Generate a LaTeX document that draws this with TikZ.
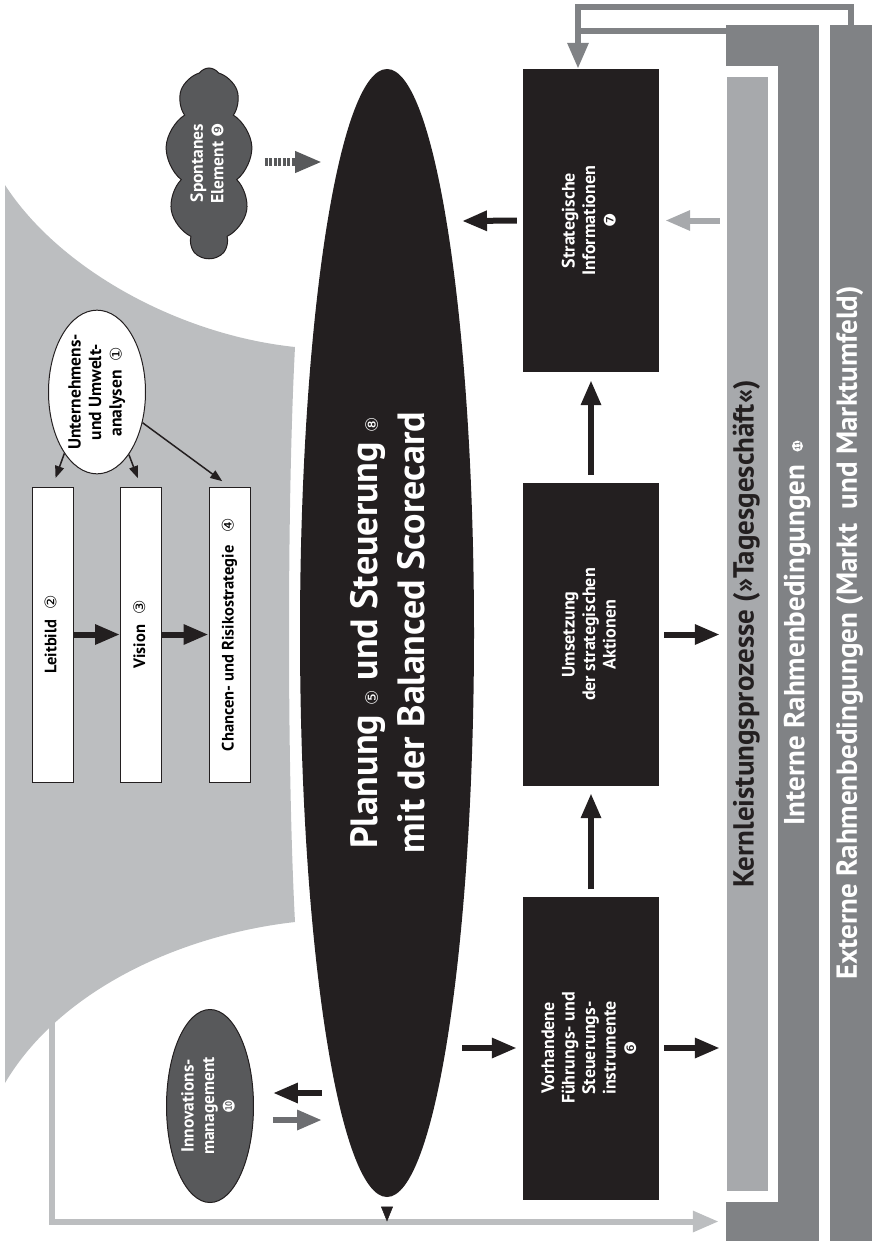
\documentclass[tikz,border=0pt]{standalone}
\usepackage{fontspec}
\usepackage{graphicx}
\setmainfont{PT Sans}
\newfontfamily\symf{DejaVu Sans}
\usetikzlibrary{arrows.meta,shapes.geometric,shapes.symbols}
\definecolor{blk}{HTML}{231F20}
\definecolor{lgray}{HTML}{BCBEC0}
\definecolor{mgray}{HTML}{A7A9AC}
\definecolor{dgray}{HTML}{808285}
\definecolor{cgray}{HTML}{58595B}
\definecolor{igray}{HTML}{6D6E71}
\newcommand\vt[1]{\rotatebox{90}{\begin{tabular}{@{}c@{}}#1\end{tabular}}}
\newcommand\vtshift[2]{\rotatebox{90}{\raisebox{#1}[\height][\depth]{\begin{tabular}{@{}c@{}}#2\end{tabular}}}}
\newcommand\cn[2][16]{{\symf\mdseries\fontsize{#1}{#1}\selectfont #2}}
\newsavebox\elevbox
\begin{document}
\sbox\elevbox{\begin{pgfpicture}\pgfsetbaseline{0pt}\pgfsetfillcolor{white}\pgfpathcircle{\pgfpointorigin}{5.5pt}\pgfusepath{fill}\pgftext{\color{dgray}\fontsize{8}{8}\selectfont\bfseries 11}\end{pgfpicture}}%
\begin{tikzpicture}[x=1pt,y=-1pt,
  wbox/.style={draw=blk, line width=1pt, fill=white, minimum width=41pt, minimum height=295pt, inner sep=0pt, font=\fontsize{16.5}{20}\selectfont\bfseries},
  bbox/.style={fill=blk, minimum width=136pt, minimum height=303pt, inner sep=0pt, text=white, font=\fontsize{18}{20.5}\selectfont\bfseries},
  barfont/.style={inner sep=0pt, font=\fontsize{29}{29}\selectfont\bfseries},
  tarr/.style={draw=blk, line width=6pt, -{Triangle[length=25pt,width=19pt]}},
  garr/.style={draw=mgray, line width=6pt, -{Triangle[length=25pt,width=19pt]}},
  tharr/.style={draw=blk, line width=1.5pt, -{Triangle[length=12pt,width=9pt]}},
  smalltxt/.style={font=\fontsize{17.5}{20.5}\selectfont\bfseries}
]
\useasboundingbox (0,0) rectangle (872,1243);

% feedback line under the funnel
\coordinate (fb) at (52,1000);
\node[fill=dgray, minimum width=93pt, minimum height=39pt, inner sep=0pt] (intbot) at (772.5,1221.5) {};
\draw[lgray, line width=6pt, -{Triangle[length=26pt,width=20pt]}, shorten >=7pt] (fb) |- (intbot.west);

% funnel
\fill[lgray] (5,185) .. controls (60,270) and (180,335) .. (295,347)
  .. controls (287,500) and (287,770) .. (295,922)
  .. controls (180,935) and (60,990) .. (5,1083) -- cycle;

% left boxes
\node[wbox] (leit) at (52.5,634.5) {\vt{Leitbild\hspace{0.6em}\cn{②}}};
\node[wbox] (vis) at (141,634.5) {\vt{Vision\hspace{0.6em}\cn{③}}};
\node[wbox] (chan) at (229.5,634.5) {\vt{Chancen- und Risikostrategie\hspace{0.8em}\cn{④}}};
\node[ellipse, draw=blk, line width=1pt, fill=white, minimum width=97pt, minimum height=160pt, inner sep=0pt, smalltxt] (ua) at (97,392)
  {\vt{Unternehmens-\\und Umwelt-\\analysen\hspace{0.5em}\cn{①}}};

\draw[tarr] (leit.east) -- (vis.west);
\draw[tarr] (vis.east) -- (chan.west);
\draw[tharr, shorten >=9pt] (ua.242) -- (leit.north);
\draw[tharr, shorten >=9pt] (ua.297) -- (vis.north);
\draw[tharr, shorten >=9pt] (ua.326) -- (chan.north);

% central ellipse
\node[ellipse, fill=blk, minimum width=174pt, minimum height=1128pt, inner sep=0pt, text=white, font=\fontsize{38}{47}\selectfont\bfseries] (plan) at (387,633)
  {\vtshift{-5pt}{Planung \cn[17]{⑤} und Steuerung \cn[17]{⑧}\\mit der Balanced Scorecard}};

% right boxes
\node[bbox] (strat) at (591,220.5) {\vt{Strategische\\Informationen\\\cn{❼}}};
\node[bbox] (ums) at (591,634.5) {\vt{Umsetzung\\der strategischen\\Aktionen}};
\node[bbox] (vorh) at (591,1048) {\vt{Vorhandene\\Führungs- und\\Steuerungs-\\instrumente\\\cn{❻}}};

% bars
\node[fill=dgray, minimum width=42pt, minimum height=1216pt, barfont, text=white] (ext) at (851,633)
  {\vt{Externe Rahmenbedingungen (Markt~ und Marktumfeld)}};
\node[fill=dgray, minimum width=41pt, minimum height=1216pt, barfont, text=white] (int) at (798.5,633)
  {\vt{Interne Rahmenbedingungen\hspace{0.45em}\raisebox{7pt}{\usebox\elevbox}}};
\node[fill=dgray, minimum width=93pt, minimum height=41pt, inner sep=0pt] (inttop) at (772.5,45.5) {};
\node[fill=mgray, minimum width=41pt, minimum height=1114pt, barfont, text=blk] (kern) at (747.5,634)
  {\vt{Kernleistungsprozesse (»Tagesgeschäft«)}};

% cloud and innovation
\node[cloud, cloud puffs=9, cloud puff arc=110, cloud ignores aspect, draw=blk, line width=1pt, fill=cgray, minimum width=87pt, minimum height=190pt, inner sep=0pt, text=white, smalltxt] (cloud) at (209,163)
  {\vt{Spontanes\\Element \cn{❾}}};
\node[ellipse, draw=blk, line width=1pt, fill=cgray, minimum width=77pt, minimum height=193pt, inner sep=0pt, text=white, smalltxt] (inno) at (210,1106)
  {\vt{Innovations-\\management\\\cn{❿}}};

% right-side arrows
\draw[tarr, shorten <=7pt, shorten >=7pt] (vorh.north) -- (ums.south);
\draw[tarr, shorten <=8pt, shorten >=8pt] (ums.north) -- (strat.south);
\coordinate (p7) at (462,221);
\draw[tarr, shorten <=6pt] (strat.west) -- (p7);
\draw[garr, shorten <=7pt, shorten >=6pt] (kern.west |- strat.east) -- (strat.east);
\draw[tarr, shorten <=5pt, shorten >=7pt] (ums.east) -- (kern.west |- ums.east);
\coordinate (p6) at (462,1048);
\draw[tarr, shorten >=6pt] (p6) -- (vorh.west);
\draw[tarr, shorten <=5pt, shorten >=7pt] (vorh.east) -- (kern.west |- vorh.east);

% innovation arrows
\coordinate (p10a) at (322,1093);
\coordinate (p10b) at (322,1120);
\draw[tarr, shorten >=19pt] (p10a) -- (inno.east |- p10a);
\draw[draw=igray, line width=6pt, -{Triangle[length=25pt,width=19pt]}, shorten <=19pt] (inno.east |- p10b) -- (p10b);

% spontaneous element arrow
\coordinate (p9) at (322,162);
\draw[draw=cgray, line width=8pt, dash pattern=on 3pt off 1.5pt, -{Triangle[length=27pt,width=20pt]}, shorten <=15pt] (cloud.east |- p9) -- (p9);

% top feedback connectors
\coordinate (ta) at (578,7);
\coordinate (tb) at (578,31);
\draw[dgray, line width=6pt, -{Triangle[length=26pt,width=20pt]}] (ext.north) |- (ta) -- (tb |- strat.north);
\draw[dgray, line width=6pt] (inttop.west |- tb) -- (tb);

% small triangle under the ellipse
\draw[blk, line width=0.5pt, -{Triangle[length=15pt,width=12pt]}, shorten <=12pt] (plan.south) -- (plan.south |- intbot.west);
\end{tikzpicture}
\end{document}
